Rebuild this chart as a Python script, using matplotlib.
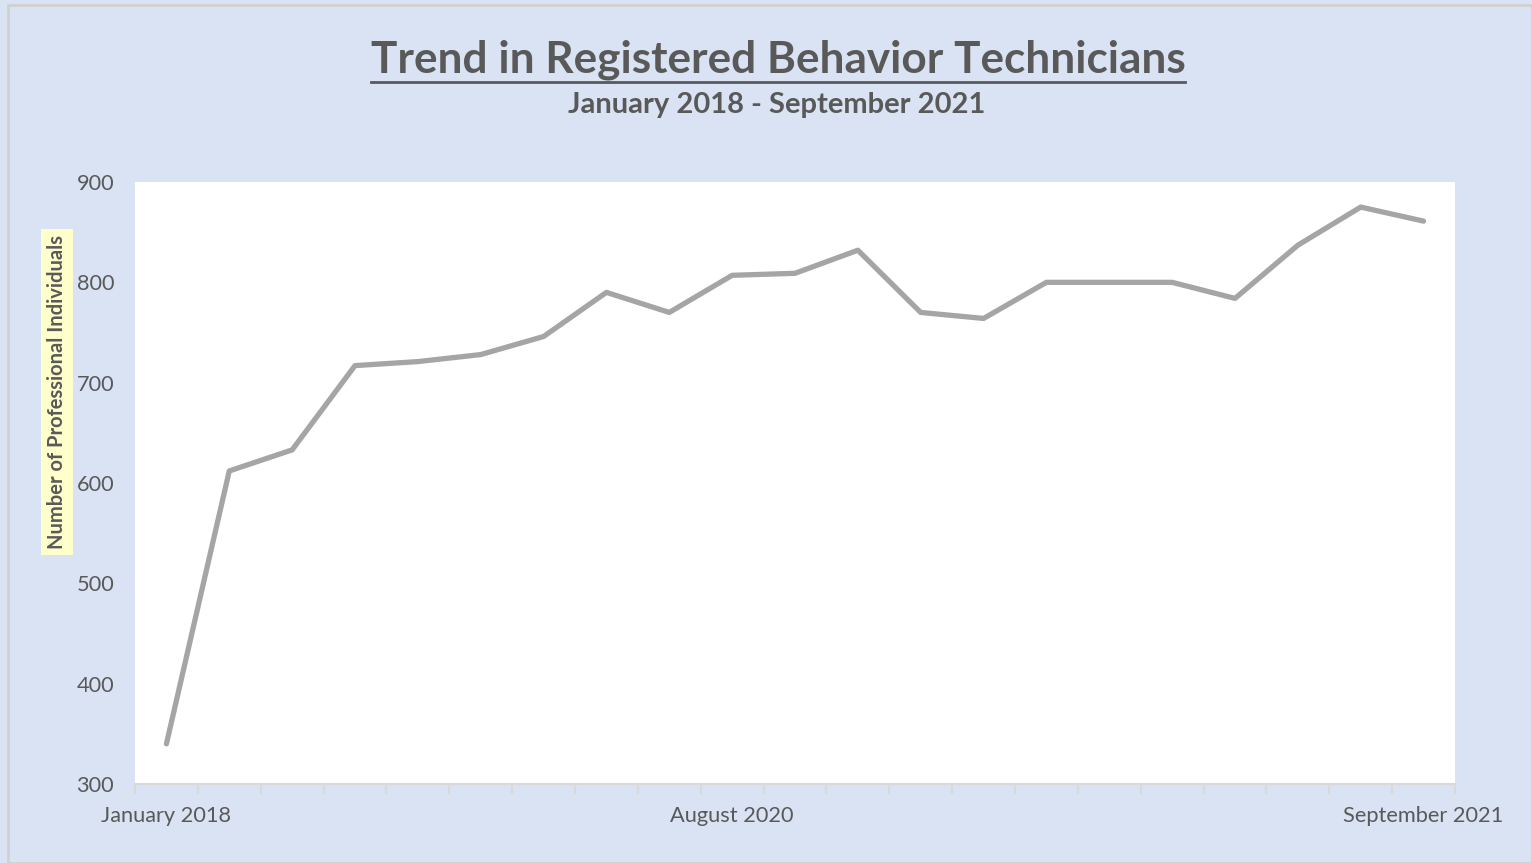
import matplotlib.pyplot as plt
from matplotlib.lines import Line2D
from matplotlib.patches import Rectangle

# monthly-ish snapshots, Jan 2018 .. Sep 2021 (21 points)
months = list(range(21))
tick_pos = [0, 9, 20]
tick_labels = ["January 2018", "August 2020", "September 2021"]
counts = [340, 612, 633, 717, 721, 728, 746, 790, 770, 807, 809,
          832, 770, 764, 800, 800, 800, 784, 837, 875, 861]

bg = "#DAE3F3"
txt = "#595959"
plt.rcParams["font.family"] = ["Lato", "DejaVu Sans"]

fig = plt.figure(figsize=(15.32, 8.63), dpi=100)
fig.patch.set_facecolor(bg)
# thin border round the chart area
fig.patches.append(Rectangle((8 / 1532, 0), 1 - 8 / 1532, 1 - 5 / 863, transform=fig.transFigure,
                             fill=False, edgecolor="#D0D0D0", linewidth=2))

ax = fig.add_axes([135 / 1532, 1 - 784 / 863, 1320 / 1532, 602 / 863])
ax.set_facecolor("white")
ax.plot(months, counts, color="#A5A5A5", linewidth=3.8, solid_capstyle="round",
        solid_joinstyle="round")

ax.set_xlim(-0.5, 20.5)
ax.set_ylim(300, 900)
ax.set_yticks(range(300, 901, 100))
ax.set_xticks(tick_pos)
ax.set_xticklabels(tick_labels)
ax.set_xticks([i - 0.5 for i in range(22)], minor=True)
ax.tick_params(axis="x", which="major", length=0, pad=16, labelsize=15.7, labelcolor=txt)
ax.tick_params(axis="x", which="minor", length=7, width=1.5, color="#D9D9D9")
ax.tick_params(axis="y", length=0, pad=15, labelsize=15.7, labelcolor=txt)
for s in ["top", "right", "left"]:
    ax.spines[s].set_visible(False)
ax.spines["bottom"].set_color("#D9D9D9")
ax.spines["bottom"].set_linewidth(1.5)

fig.text(57 / 1532, 1 - 392 / 863, "Number of Professional Individuals", rotation=90,
         ha="center", va="center", fontsize=14.5, fontweight="bold", color=txt,
         bbox=dict(facecolor="#FFFFCC", edgecolor="none", pad=4))

title = fig.text(778 / 1532, 1 - 60 / 863, "Trend in Registered Behavior Technicians",
                 ha="center", va="center", fontsize=31.8, fontweight="bold", color=txt)
fig.text(777 / 1532, 1 - 105 / 863, "January 2018 - September 2021",
         ha="center", va="center", fontsize=21, fontweight="bold", color=txt)

# underline the title
fig.canvas.draw()
bb = title.get_window_extent().transformed(fig.transFigure.inverted())
fig.lines.append(Line2D([bb.x0, bb.x1], [1 - 82 / 863] * 2, transform=fig.transFigure,
                        color=txt, linewidth=2))

plt.savefig("out.png", dpi=100, facecolor=bg)
